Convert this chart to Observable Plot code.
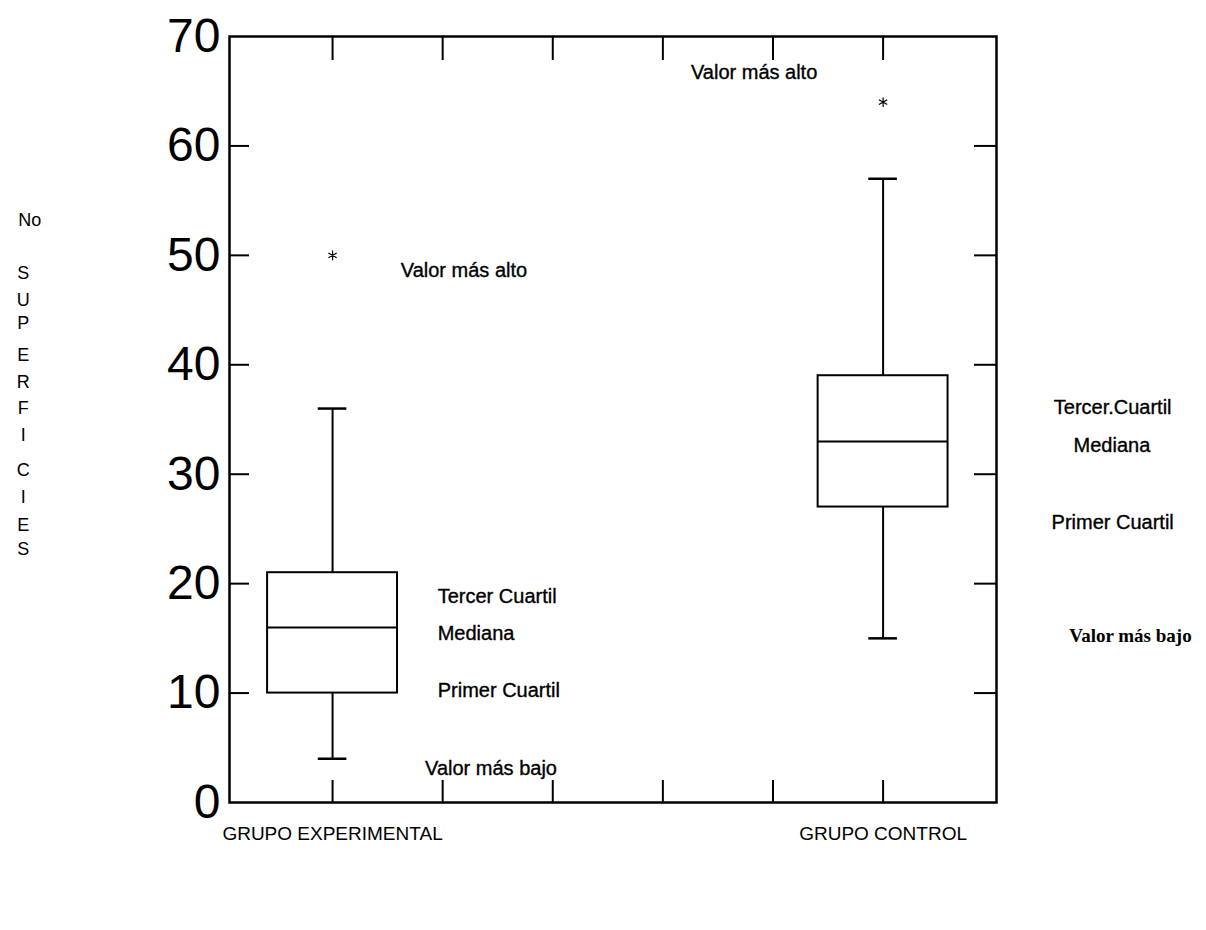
<!DOCTYPE html>
<html>
<head>
<meta charset="utf-8">
<script src="https://cdn.jsdelivr.net/npm/d3@7"></script>
<script src="https://cdn.jsdelivr.net/npm/@observablehq/plot@0.6"></script>
<style>
  html, body { margin: 0; padding: 0; background: #fff; }
  #chart svg { display: block; }
</style>
</head>
<body>
<div id="chart"></div>
<script>
// ---- data ----
const groups = ["GRUPO EXPERIMENTAL", "GRUPO CONTROL"];
const groupPos = [1, 6];
const lowWhisker = [4, 15];
const firstQuartile = [10, 27];
const medians = [16, 33];
const thirdQuartile = [21, 39];
const highWhisker = [36, 57];
const outliers = [50, 64];
const yTickValues = [0, 10, 20, 30, 40, 50, 60, 70];
const xTickValues = [1, 2, 3, 4, 5, 6];

// annotation labels (text, x in axis units, y in value units)
const annoText = ["Valor más alto", "Tercer Cuartil", "Mediana", "Primer Cuartil", "Valor más bajo",
                  "Valor más alto", "Tercer.Cuartil", "Mediana", "Primer Cuartil"];
const annoX = [1.62, 1.955, 1.955, 1.955, 1.84, 4.255, 7.55, 7.73, 7.53];
const annoY = [48.6, 18.8, 15.4, 10.2, 3.1, 66.7, 36.1, 32.6, 25.6];
const serifText = ["Valor más bajo"];
const serifX = [7.69];
const serifY = [15.2];

const yLabelChars = ["S", "U", "P", "E", "R", "F", "I", "C", "I", "E", "S"];
const yLabelCharY = [48.4, 45.9, 43.8, 40.9, 38.4, 36.0, 33.6, 30.4, 27.9, 25.3, 23.1];
const yLabelTop = "No";

// ---- tables ----
const boxes = groups.map((g, i) => ({
  g, x: groupPos[i], lo: lowWhisker[i], q1: firstQuartile[i], med: medians[i],
  q3: thirdQuartile[i], hi: highWhisker[i], out: outliers[i]
}));
const annos = annoText.map((t, i) => ({t, x: annoX[i], y: annoY[i]}));
const serifAnnos = serifText.map((t, i) => ({t, x: serifX[i], y: serifY[i]}));
const yChars = yLabelChars.map((c, i) => ({c, y: yLabelCharY[i]}));

const xDomain = [0.064, 7.03];
const pxPerX = 110, pxPerY = 10.93;
const boxHalf = 0.59, capHalf = 0.13;
const innerY = yTickValues.filter(v => v > 0 && v < 70);

const font = "'Liberation Sans', Arial, Helvetica, sans-serif";

const chart = Plot.plot({
  width: 1206,
  height: 930,
  marginLeft: 229,
  marginRight: 210,
  marginTop: 36,
  marginBottom: 128,
  style: {fontFamily: font, color: "#000", background: "#fff", overflow: "visible"},
  x: {domain: xDomain, axis: null},
  y: {domain: [0, 70], axis: null},
  marks: [
    Plot.frame({stroke: "#000", strokeWidth: 2.5}),
    // y tick labels
    Plot.axisY({ticks: yTickValues, tickSize: 0, tickPadding: 9, fontSize: 48, label: null, anchor: "left"}),
    // inward ticks left / right
    Plot.ruleY(innerY, {y: d => d, x1: xDomain[0], x2: xDomain[0] + 20 / pxPerX, stroke: "#000", strokeWidth: 2}),
    Plot.ruleY(innerY, {y: d => d, x1: xDomain[1], x2: xDomain[1] - 22 / pxPerX, stroke: "#000", strokeWidth: 2}),
    // inward ticks top / bottom
    Plot.ruleX(xTickValues, {x: d => d, y1: 70, y2: 70 - 24 / pxPerY, stroke: "#000", strokeWidth: 2}),
    Plot.ruleX(xTickValues, {x: d => d, y1: 0, y2: 22 / pxPerY, stroke: "#000", strokeWidth: 2}),
    // whiskers
    Plot.ruleX(boxes, {x: "x", y1: "lo", y2: "q1", stroke: "#000", strokeWidth: 2}),
    Plot.ruleX(boxes, {x: "x", y1: "q3", y2: "hi", stroke: "#000", strokeWidth: 2}),
    Plot.ruleY(boxes, {y: "lo", x1: d => d.x - capHalf, x2: d => d.x + capHalf, stroke: "#000", strokeWidth: 2.5}),
    Plot.ruleY(boxes, {y: "hi", x1: d => d.x - capHalf, x2: d => d.x + capHalf, stroke: "#000", strokeWidth: 2.5}),
    // boxes
    Plot.rect(boxes, {x1: d => d.x - boxHalf, x2: d => d.x + boxHalf, y1: "q1", y2: "q3",
      fill: "none", stroke: "#000", strokeWidth: 2}),
    Plot.ruleY(boxes, {y: "med", x1: d => d.x - boxHalf, x2: d => d.x + boxHalf, stroke: "#000", strokeWidth: 2}),
    // outliers
    Plot.dot(boxes, {x: "x", y: "out", symbol: "asterisk", r: 4.5, stroke: "#000", strokeWidth: 1.2}),
    // annotations
    Plot.text(annos, {x: "x", y: "y", text: "t", textAnchor: "start", lineAnchor: "middle",
      fontSize: 20, fill: "#000", stroke: "#000", strokeWidth: 0.35}),
    Plot.text(serifAnnos, {x: "x", y: "y", text: "t", textAnchor: "start", lineAnchor: "middle",
      fontSize: 19, fontWeight: "bold", fontFamily: "'Liberation Serif', 'Times New Roman', serif", fill: "#000"}),
    // group labels below
    Plot.text(boxes, {x: "x", y: -2.9, text: "g", textAnchor: "middle", lineAnchor: "middle",
      fontSize: 19, fill: "#000"}),
    // vertical y label
    Plot.text(yChars, {x: xDomain[0] - 206 / pxPerX, y: "y", text: "c", textAnchor: "middle",
      lineAnchor: "middle", fontSize: 18, fill: "#000"}),
    Plot.text([yLabelTop], {x: xDomain[0] - 211 / pxPerX, y: 53.2, text: d => d, textAnchor: "start",
      lineAnchor: "middle", fontSize: 18, fill: "#000"})
  ]
});
document.getElementById("chart").appendChild(chart);
</script>
</body>
</html>
